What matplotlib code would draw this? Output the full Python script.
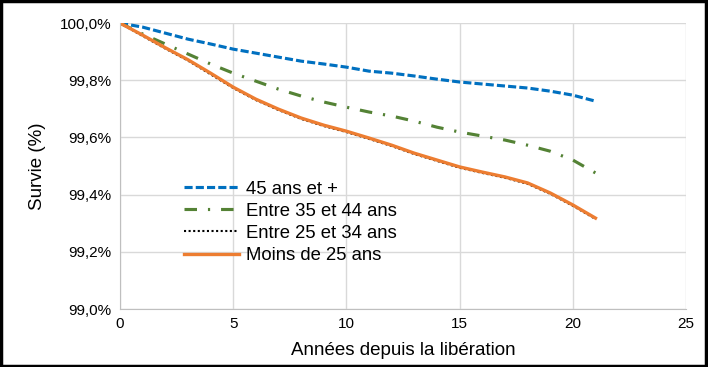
import matplotlib.pyplot as plt
from matplotlib.patches import Rectangle
from matplotlib.ticker import FuncFormatter

plt.rcParams['font.family'] = ['Liberation Sans', 'DejaVu Sans']

# Years since release
annees = list(range(0, 22))

# Survival (%) by age group
age_45_plus = [100.0, 99.986, 99.965, 99.944, 99.927, 99.909, 99.895, 99.881, 99.867, 99.857, 99.846,
               99.832, 99.825, 99.815, 99.804, 99.794, 99.787, 99.780, 99.773, 99.762, 99.748, 99.727]
age_35_44 = [100.0, 99.962, 99.927, 99.892, 99.857, 99.825, 99.797, 99.769, 99.745, 99.724, 99.706,
             99.689, 99.675, 99.657, 99.636, 99.619, 99.605, 99.591, 99.573, 99.552, 99.521, 99.476]
age_25_34 = [100.0, 99.955, 99.911, 99.869, 99.821, 99.773, 99.731, 99.696, 99.665, 99.640, 99.619,
             99.595, 99.570, 99.542, 99.518, 99.494, 99.476, 99.459, 99.438, 99.403, 99.361, 99.315]
moins_25 = [100.0, 99.958, 99.914, 99.872, 99.825, 99.776, 99.734, 99.699, 99.668, 99.643, 99.622,
            99.598, 99.573, 99.545, 99.521, 99.497, 99.479, 99.462, 99.441, 99.406, 99.364, 99.318]

fig = plt.figure(figsize=(7.08, 3.67), dpi=100)
ax = fig.add_axes([0.1695, 0.158, 0.7995, 0.779])

ax.plot(annees, age_45_plus, color='#0070C0', lw=2.25, dashes=(2.6, 1.0), label='45 ans et +')
ax.plot(annees, age_35_44, color='#548235', lw=2.25, dashes=(4, 3.5, 0.7, 3.5), label='Entre 35 et 44 ans')
ax.plot(annees, age_25_34, color='black', lw=1.5, dashes=(1, 1.2), label='Entre 25 et 34 ans')
ax.plot(annees, moins_25, color='#ED7D31', lw=2.4, label='Moins de 25 ans')

ax.set_xlim(0, 25)
ax.set_ylim(99.0, 100.0)
ax.set_xticks(range(0, 26, 5))
ax.set_yticks([99.0, 99.2, 99.4, 99.6, 99.8, 100.0])
ax.yaxis.set_major_formatter(FuncFormatter(lambda v, p: f'{v:.1f}%'.replace('.', ',')))
ax.tick_params(length=0, labelsize=11, pad=6)
ax.grid(True, color='#D9D9D9', lw=1)
ax.set_axisbelow(True)
for s in ['top', 'right']:
    ax.spines[s].set_visible(False)
for s in ['left', 'bottom']:
    ax.spines[s].set_color('#BFBFBF')

ax.set_xlabel('Années depuis la libération', fontsize=13.5, labelpad=8)
ax.set_ylabel('Survie (%)', fontsize=13.5, labelpad=10)

ax.legend(loc='upper left', bbox_to_anchor=(0.1, 0.475), frameon=False, fontsize=13.3,
          handlelength=3.0, handletextpad=0.35, labelspacing=0.28, borderaxespad=0)

fig.add_artist(Rectangle((0.002, 0.003), 0.995, 0.994, transform=fig.transFigure,
                         fill=False, edgecolor='black', lw=2.5))

fig.savefig('out.png', dpi=100)
